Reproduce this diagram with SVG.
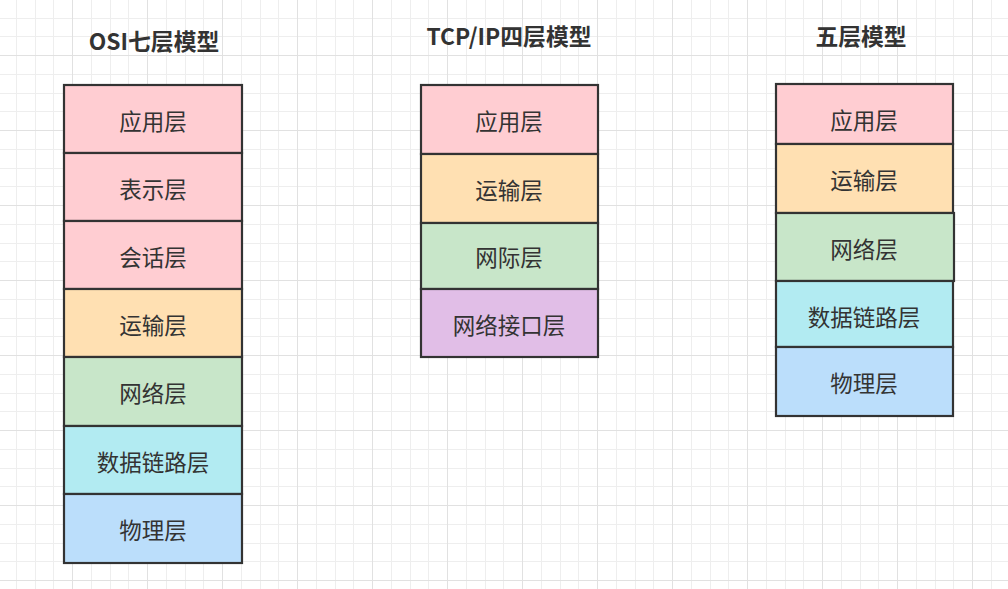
<svg xmlns="http://www.w3.org/2000/svg" width="1008" height="589" viewBox="0 0 1008 589">
<style>
.minor{stroke:#eeeeee;stroke-width:1;fill:none}
.major{stroke:#e1e1e1;stroke-width:1;fill:none}
.box{stroke:#333333;stroke-width:2.2}
.lbl{font-family:"Noto Sans CJK SC","Noto Sans",sans-serif;font-size:22.5px;fill:#333333;text-anchor:middle;dominant-baseline:central}
.title{font-family:"Noto Sans CJK SC","Noto Sans",sans-serif;font-size:22.8px;font-weight:bold;fill:#333333;text-anchor:middle;dominant-baseline:central}
.app{fill:#FFCDD2}.pres{fill:#FFCDD2}.trans{fill:#FFE0B2}.net{fill:#C8E6C9}.link{fill:#B2EBF2}.phy{fill:#BBDEFB}.host{fill:#E1BEE7}
</style>
<rect width="1008" height="589" fill="#ffffff"/>
<g id="grid">
<path class="minor" d="M16.5 0V589M35.5 0V589M53.5 0V589M91.5 0V589M110.5 0V589M128.5 0V589M166.5 0V589M185.5 0V589M203.5 0V589M241.5 0V589M260.5 0V589M278.5 0V589M316.5 0V589M335.5 0V589M353.5 0V589M391.5 0V589M410.5 0V589M428.5 0V589M466.5 0V589M485.5 0V589M503.5 0V589M541.5 0V589M560.5 0V589M578.5 0V589M616.5 0V589M635.5 0V589M653.5 0V589M691.5 0V589M710.5 0V589M728.5 0V589M766.5 0V589M785.5 0V589M803.5 0V589M841.5 0V589M860.5 0V589M878.5 0V589M916.5 0V589M935.5 0V589M953.5 0V589M991.5 0V589
M0 18.5H1008M0 36.5H1008M0 74.5H1008M0 93.5H1008M0 111.5H1008M0 149.5H1008M0 168.5H1008M0 186.5H1008M0 224.5H1008M0 243.5H1008M0 261.5H1008M0 299.5H1008M0 318.5H1008M0 336.5H1008M0 374.5H1008M0 393.5H1008M0 411.5H1008M0 449.5H1008M0 468.5H1008M0 486.5H1008M0 524.5H1008M0 543.5H1008M0 561.5H1008"/>
<path class="major" d="M72.5 0V589M147.5 0V589M222.5 0V589M297.5 0V589M372.5 0V589M447.5 0V589M522.5 0V589M597.5 0V589M672.5 0V589M747.5 0V589M822.5 0V589M897.5 0V589M972.5 0V589
M0 55.5H1008M0 130.5H1008M0 205.5H1008M0 280.5H1008M0 355.5H1008M0 430.5H1008M0 505.5H1008M0 580.5H1008"/>
</g>
<g id="titles">
<text class="title" x="154" y="40">OSI七层模型</text>
<text class="title" x="509" y="35">TCP/IP四层模型</text>
<text class="title" x="861" y="35">五层模型</text>
</g>
<g id="osi">
<g id="osi-app"><rect class="box app" x="64" y="85" width="178" height="68"/><text class="lbl" x="153" y="120">应用层</text></g>
<g id="osi-pres"><rect class="box pres" x="64" y="153" width="178" height="68"/><text class="lbl" x="153" y="188">表示层</text></g>
<g id="osi-sess"><rect class="box pres" x="64" y="221" width="178" height="68"/><text class="lbl" x="153" y="256">会话层</text></g>
<g id="osi-trans"><rect class="box trans" x="64" y="289" width="178" height="68"/><text class="lbl" x="153" y="324">运输层</text></g>
<g id="osi-net"><rect class="box net" x="64" y="357" width="178" height="69"/><text class="lbl" x="153" y="392">网络层</text></g>
<g id="osi-link"><rect class="box link" x="64" y="426" width="178" height="68"/><text class="lbl" x="153" y="461">数据链路层</text></g>
<g id="osi-phy"><rect class="box phy" x="64" y="494" width="178" height="69"/><text class="lbl" x="153" y="529">物理层</text></g>
</g>
<g id="tcpip">
<g id="tcp-app"><rect class="box app" x="421" y="85" width="177" height="69"/><text class="lbl" x="509" y="120">应用层</text></g>
<g id="tcp-trans"><rect class="box trans" x="421" y="154" width="177" height="69"/><text class="lbl" x="509" y="189">运输层</text></g>
<g id="tcp-net"><rect class="box net" x="421" y="223" width="177" height="66"/><text class="lbl" x="509" y="256">网际层</text></g>
<g id="tcp-host"><rect class="box host" x="421" y="289" width="177" height="68"/><text class="lbl" x="509" y="324">网络接口层</text></g>
</g>
<g id="five">
<g id="five-app"><rect class="box app" x="776" y="84" width="177" height="60"/><text class="lbl" x="864" y="119">应用层</text></g>
<g id="five-trans"><rect class="box trans" x="776" y="144" width="177" height="69"/><text class="lbl" x="864" y="179">运输层</text></g>
<g id="five-net"><rect class="box net" x="776" y="213" width="178" height="68"/><text class="lbl" x="864" y="248">网络层</text></g>
<g id="five-link"><rect class="box link" x="776" y="281" width="177" height="66"/><text class="lbl" x="864" y="316">数据链路层</text></g>
<g id="five-phy"><rect class="box phy" x="776" y="347" width="177" height="69"/><text class="lbl" x="864" y="382">物理层</text></g>
</g>
</svg>
